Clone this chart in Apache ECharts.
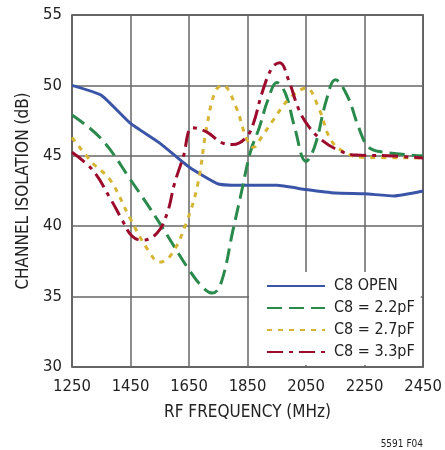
<!DOCTYPE html>
<html>
<head>
<meta charset="utf-8">
<script src="https://cdn.jsdelivr.net/npm/echarts@6/dist/echarts.min.js"></script>
<style>
  html, body { margin: 0; padding: 0; background: #fff; }
  #chart { width: 445px; height: 450px; }
</style>
</head>
<body>
<div id="chart"></div>
<script>
// x axis runs 1250..2450 MHz, ticks every 200
const xStart = 1250
const xEnd = 2450
const xStep = 200
const yTicks = [30, 35, 40, 45, 50, 55]

const seriesNames = ['C8 OPEN', 'C8 = 2.2pF', 'C8 = 2.7pF', 'C8 = 3.3pF']

const openFreq = [1250, 1350, 1450, 1550, 1650, 1750, 1850, 1950, 2050, 2150, 2250, 2350, 2450]
const openVal = [50, 49.3, 47.3, 45.9, 44.2, 43.0, 42.9, 42.9, 42.6, 42.35, 42.3, 42.15, 42.5]

const c22Freq = [1250, 1350, 1450, 1550, 1650, 1700, 1730, 1760, 1800, 1830, 1860, 1890, 1920, 1950, 1980, 2010, 2050, 2080, 2120, 2150, 2190, 2230, 2260, 2300, 2450]
const c22Val = [47.9, 46.2, 43.3, 40.2, 36.9, 35.6, 35.25, 36.0, 39.7, 42.5, 45.3, 47.0, 49.0, 50.2, 49.4, 47.1, 44.6, 45.7, 49.0, 50.4, 49.3, 47.0, 45.7, 45.3, 45.0]

const c27Freq = [1250, 1320, 1380, 1450, 1510, 1550, 1590, 1640, 1680, 1710, 1740, 1765, 1810, 1845, 1870, 1900, 1940, 1990, 2050, 2095, 2130, 2170, 2240, 2450]
const c27Val = [46.3, 44.5, 43.3, 40.5, 38.3, 37.45, 38.0, 40.2, 43.0, 47.0, 49.6, 50.0, 48.5, 46.3, 45.6, 46.4, 47.6, 49.0, 49.8, 48.3, 46.3, 45.4, 44.9, 44.85]

const c33Freq = [1250, 1320, 1380, 1420, 1455, 1490, 1540, 1575, 1600, 1630, 1662, 1710, 1765, 1800, 1845, 1870, 1900, 1935, 1960, 1990, 2025, 2060, 2105, 2160, 2220, 2330, 2450]
const c33Val = [45.25, 44.0, 42.0, 40.5, 39.3, 39.0, 39.5, 40.9, 43.0, 44.9, 47.0, 46.7, 45.9, 45.8, 46.3, 47.3, 49.5, 51.3, 51.6, 50.4, 48.3, 47.05, 46.1, 45.4, 45.05, 45.0, 44.85]

const font = "'Liberation Sans Narrow', 'DejaVu Sans Condensed', sans-serif"

// axis counted from 0 so ticks land on 1250, 1450, ...
toPoints = (f, v) => f.map((x, i) => [x - xStart, v[i]])

let chart = echarts.init(document.getElementById('chart'))

let lineSeries = (name, f, v, color, type, smooth) => {
	return {
		name: name,
		type: 'line',
		data: toPoints(f, v),
		symbol: 'none',
		smooth: smooth,
		lineStyle: {
			color: color,
			width: 3,
			type: type
		},
		itemStyle: {
			color: color
		}
	}
}

let option = {
	backgroundColor: '#fff',
	animation: false,
	textStyle: {
		fontFamily: font
	},
	grid: {
		left: 72,
		top: 15,
		right: 21,
		bottom: 83,
		show: true,
		borderColor: '#333',
		borderWidth: 1.5
	},
	xAxis: {
		type: 'value',
		min: 0,
		max: xEnd - xStart,
		interval: xStep,
		name: 'RF FREQUENCY (MHz)',
		nameLocation: 'middle',
		nameGap: 37,
		nameTextStyle: {
			color: '#222',
			fontSize: 17,
			fontFamily: font
		},
		axisLine: { show: false },
		axisTick: { show: false },
		axisLabel: {
			color: '#222',
			fontSize: 16.5,
			margin: 11,
			fontFamily: font,
			formatter: v => String(v + xStart)
		},
		splitLine: {
			show: true,
			lineStyle: { color: '#666', width: 1.5 }
		}
	},
	yAxis: {
		type: 'value',
		min: yTicks[0],
		max: yTicks[yTicks.length - 1],
		interval: yTicks[1] - yTicks[0],
		name: 'CHANNEL ISOLATION (dB)',
		nameLocation: 'middle',
		nameGap: 36,
		nameTextStyle: {
			color: '#222',
			fontSize: 17,
			fontFamily: font
		},
		axisLine: { show: false },
		axisTick: { show: false },
		axisLabel: {
			color: '#222',
			fontSize: 16.5,
			margin: 10,
			fontFamily: font
		},
		splitLine: {
			show: true,
			lineStyle: { color: '#666', width: 1.5 }
		}
	},
	legend: {
		orient: 'vertical',
		left: 249,
		top: 272,
		padding: [6, 6, 5, 17],
		backgroundColor: '#fff',
		itemWidth: 58,
		itemHeight: 14,
		itemGap: 6,
		itemStyle: { opacity: 0 },
		textStyle: {
			color: '#222',
			fontSize: 16,
			lineHeight: 14,
			fontFamily: font,
			padding: [0, 0, 0, 4]
		},
		data: seriesNames
	},
	graphic: [{
		type: 'text',
		right: 22,
		top: 439,
		style: {
			text: '5591 F04',
			fill: '#222',
			fontSize: 10,
			fontFamily: font
		}
	}],
	series: [
		lineSeries(seriesNames[0], openFreq, openVal, '#3a55a8', 'solid', 0.15),
		lineSeries(seriesNames[1], c22Freq, c22Val, '#2a8a4c', [15, 7], 0.4),
		lineSeries(seriesNames[2], c27Freq, c27Val, '#d6b534', [5, 6], 0.4),
		lineSeries(seriesNames[3], c33Freq, c33Val, '#9c0a2c', [16, 6, 4, 6], 0.4)
	]
}
chart.setOption(option)
</script>
</body>
</html>
